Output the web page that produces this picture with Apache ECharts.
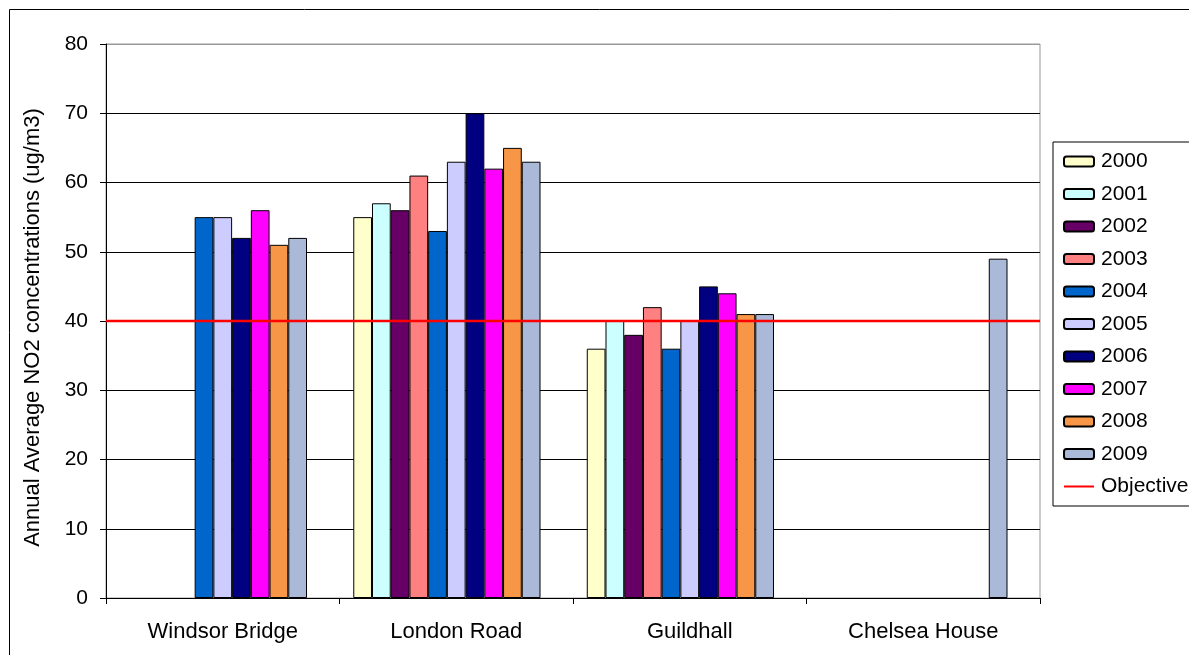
<!DOCTYPE html>
<html>
<head>
<meta charset="utf-8">
<script src="https://cdn.jsdelivr.net/npm/echarts@6/dist/echarts.min.js"></script>
<style>
  html, body { margin: 0; padding: 0; background: #fff; }
  #chart { width: 1189px; height: 655px; }
</style>
</head>
<body>
<div id="chart"></div>
<script>
// Monitoring sites along the category axis
const sites = ['Windsor Bridge', 'London Road', 'Guildhall', 'Chelsea House'];

// Annual mean NO2 (ug/m3) per year, one value per site (null = not monitored)
const years = ['2000', '2001', '2002', '2003', '2004', '2005', '2006', '2007', '2008', '2009'];
const no2_2000 = [null, 55, 36, null];
const no2_2001 = [null, 57, 40, null];
const no2_2002 = [null, 56, 38, null];
const no2_2003 = [null, 61, 42, null];
const no2_2004 = [55, 53, 36, null];
const no2_2005 = [55, 63, 40, null];
const no2_2006 = [52, 70, 45, null];
const no2_2007 = [56, 62, 44, null];
const no2_2008 = [51, 65, 41, null];
const no2_2009 = [52, 63, 41, 49];

// Air quality objective for annual mean NO2
const objective = 40;

// Y axis range and tick step
const yMin = 0, yMax = 80, yStep = 10;

const yearValues = [no2_2000, no2_2001, no2_2002, no2_2003, no2_2004,
                    no2_2005, no2_2006, no2_2007, no2_2008, no2_2009];
const yearColors = ['#FFFFCC', '#CCFFFF', '#660066', '#FF8080', '#0066CC',
                    '#CCCCFF', '#000080', '#FF00FF', '#F79646', '#AAB9D7'];

const FONT = '"Liberation Sans", Arial, sans-serif';

const barSeries = years.map((y, i) => ({
  name: y,
  type: 'bar',
  data: yearValues[i],
  barGap: '0%',
  barCategoryGap: '11.8%',
  itemStyle: { color: yearColors[i], borderColor: '#000', borderWidth: 1 },
  emphasis: { disabled: true }
}));

// Empty slot that keeps room for the objective in each bar group
barSeries.push({
  name: 'objectiveSlot',
  type: 'bar',
  data: sites.map(() => null),
  barGap: '0%',
  barCategoryGap: '11.8%'
});

const legendItems = years.map(y => ({ name: y })).concat([{
  name: 'Objective',
  icon: 'path://M0,0 L30,0 L30,2 L0,2 Z',
  itemStyle: { color: '#FF0000', borderWidth: 0 }
}]);

const chart = echarts.init(document.getElementById('chart'), null, { renderer: 'canvas' });

chart.setOption({
  animation: false,
  backgroundColor: '#fff',
  textStyle: { fontFamily: FONT, color: '#000' },
  graphic: [{
    type: 'rect',
    x: 0, y: 0,
    shape: { x: 9.5, y: 9.5, width: 1400, height: 900 },
    style: { fill: 'none', stroke: '#000', lineWidth: 1 },
    silent: true
  }],
  grid: {
    left: 106, top: 44, right: 149, bottom: 57,
    show: true, borderColor: '#999', borderWidth: 1, backgroundColor: 'transparent'
  },
  legend: {
    orient: 'vertical',
    left: 1053, top: 142,
    data: legendItems,
    itemWidth: 30, itemHeight: 10, itemGap: 11.5,
    padding: [9, 60, 9, 10],
    borderColor: '#000', borderWidth: 1,
    backgroundColor: '#fff',
    textStyle: { fontSize: 21, color: '#000', fontFamily: FONT, padding: [0, 0, 0, 2] },
    selectedMode: false
  },
  xAxis: [{
    type: 'category',
    data: sites,
    axisLine: { lineStyle: { color: '#000', width: 1 } },
    axisTick: { show: true, length: 6, alignWithLabel: false, lineStyle: { color: '#000' } },
    axisLabel: { fontSize: 22, color: '#000', margin: 23, fontFamily: FONT },
    splitLine: { show: false }
  }, {
    type: 'category',
    data: ['', ''],
    boundaryGap: false,
    show: false
  }],
  yAxis: {
    type: 'value',
    min: yMin, max: yMax, interval: yStep,
    name: 'Annual Average NO2 concentrations (ug/m3)',
    nameLocation: 'middle',
    nameGap: 62,
    nameTextStyle: { fontSize: 22, color: '#000', fontFamily: FONT, padding: [0, 13, 0, 0] },
    axisLine: { show: true, lineStyle: { color: '#000', width: 1 } },
    axisTick: { show: true, length: 6, lineStyle: { color: '#000' } },
    axisLabel: { fontSize: 21, color: '#000', margin: 18, fontFamily: FONT },
    splitLine: {
      show: true,
      lineStyle: { color: ['#000', '#000', '#000', '#000', '#000', '#000', '#000', '#000', '#999'], width: 1 }
    }
  },
  series: barSeries.concat([{
    name: 'Objective',
    type: 'line',
    xAxisIndex: 1,
    data: [objective, objective],
    symbol: 'none',
    lineStyle: { color: '#FF0000', width: 2.5 },
    itemStyle: { color: '#FF0000' },
    z: 5,
    emphasis: { disabled: true }
  }])
});
</script>
</body>
</html>
